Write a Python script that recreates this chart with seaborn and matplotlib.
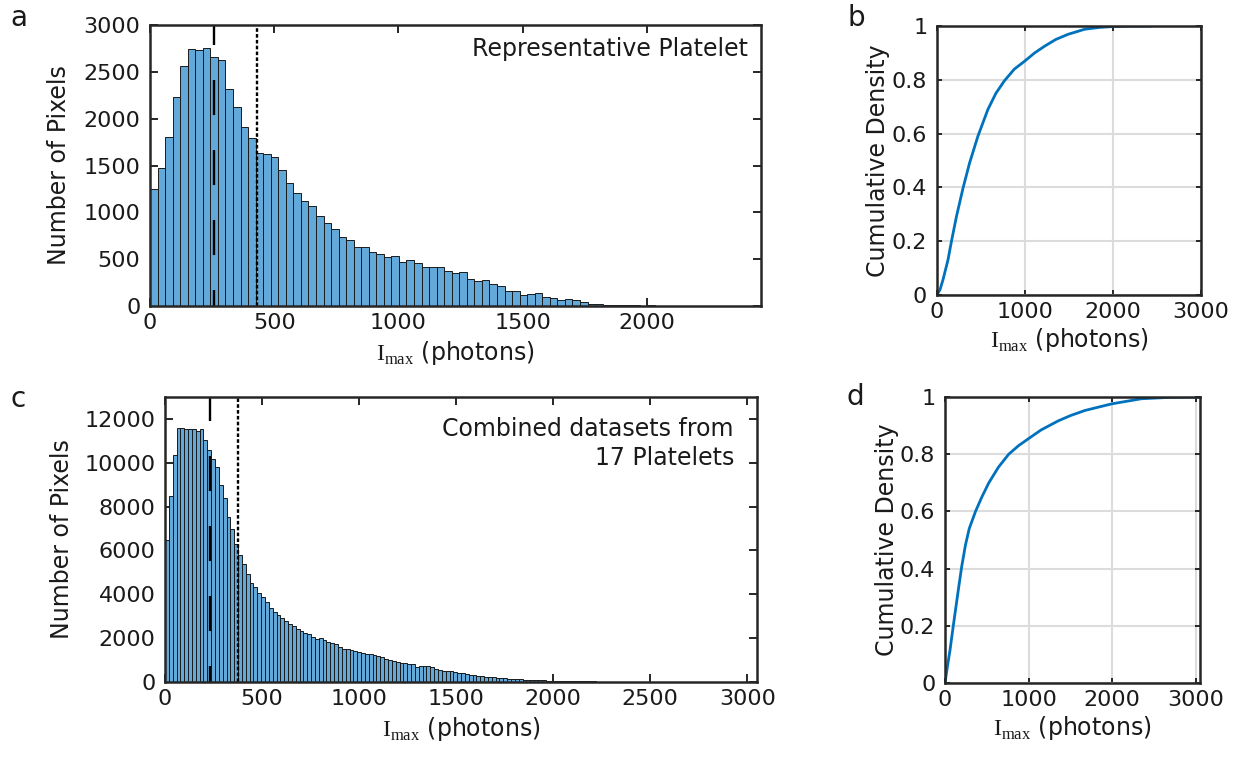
import numpy as np
import pandas as pd
import matplotlib
matplotlib.use("Agg")
import matplotlib.pyplot as plt
import seaborn as sns

# panel a: representative platelet, 81 bins over 0-2460 photons
a_range = (0, 2460)
a_counts = [
    1250, 1473, 1801, 2235, 2566, 2740, 2729, 2758, 2662, 2623,
    2313, 2128, 1908, 1790, 1637, 1619, 1594, 1452, 1310, 1203,
    1124, 1071, 961, 889, 825, 740, 705, 633, 626, 573,
    555, 527, 537, 473, 491, 456, 420, 420, 420, 374,
    349, 365, 285, 270, 274, 235, 213, 160, 160, 114,
    128, 139, 93, 85, 61, 71, 68, 46, 25, 18,
    10, 14, 8, 6, 8, 5, 6, 3, 4, 2,
    2, 1, 0, 0, 0, 0, 0, 0, 0, 0, 0,
]
a_dash, a_dot = 258, 429

# panel c: 17 platelets combined, 154 bins over 0-3050 photons
c_range = (0, 3050)
c_counts = [
    6480, 8492, 10335, 11588, 11588, 11542, 11527, 11527, 11435, 11542,
    11023, 10596, 10184, 9803, 8995, 8385, 7546, 6968, 6297, 5780,
    5383, 4911, 4529, 4346, 4042, 3859, 3659, 3356, 3202, 3051,
    2899, 2790, 2668, 2546, 2440, 2332, 2241, 2180, 2058, 1983,
    2027, 1936, 1829, 1784, 1723, 1601, 1525, 1525, 1449, 1418,
    1372, 1327, 1296, 1266, 1220, 1190, 1143, 1067, 992, 961,
    915, 869, 860, 839, 808, 700, 732, 732, 717, 686,
    580, 565, 503, 503, 503, 443, 412, 427, 382, 336,
    321, 290, 260, 245, 229, 214, 199, 183, 168, 153,
    137, 122, 122, 115, 107, 100, 85, 78, 75, 65,
    61, 50, 46, 46, 42, 38, 35, 33, 30, 28,
    27, 25, 24, 22, 21, 20, 19, 18, 17, 16,
    15, 14, 13, 12, 11, 11, 10, 9, 9, 8,
    8, 7, 7, 6, 6, 5, 5, 5, 4, 4,
    4, 3, 3, 3, 3, 2, 2, 2, 2, 2,
    1, 1, 1, 1,
]
c_dash, c_dot = 232, 378

# panel b / d: cumulative density curves
b_x = [0, 35, 68, 125, 164, 221, 296, 370, 465, 579, 670, 768, 880, 995, 1110, 1223,
       1350, 1488, 1678, 1850, 2000, 2200, 2440]
b_y = [0, 0.02, 0.056, 0.13, 0.198, 0.291, 0.397, 0.49, 0.59, 0.69, 0.75, 0.797, 0.84,
       0.869, 0.9, 0.925, 0.95, 0.969, 0.988, 0.995, 0.998, 1.0, 1.0]
d_x = [0, 30, 60, 99, 159, 199, 245, 290, 365, 440, 524, 640, 762, 880, 992, 1150,
       1357, 1500, 1674, 1992, 2349, 2700, 3000, 3040]
d_y = [0, 0.06, 0.115, 0.2, 0.325, 0.406, 0.483, 0.54, 0.6, 0.65, 0.7, 0.755, 0.8,
       0.83, 0.853, 0.885, 0.917, 0.935, 0.953, 0.976, 0.994, 0.999, 1.0, 1.0]

xlab = r"$\mathrm{I}_{\mathrm{max}}$ (photons)"

sns.set_theme(style="ticks")
plt.rcParams["font.family"] = ["DejaVu Sans"]
plt.rcParams["mathtext.fontset"] = "custom"
plt.rcParams["mathtext.rm"] = "Liberation Serif"
plt.rcParams["lines.scale_dashes"] = False
plt.rcParams["text.color"] = "#1a1a1a"
plt.rcParams["axes.labelcolor"] = "#1a1a1a"

bar_color = "#62A8D8"
line_color = "#0072BD"
axis_color = "#262626"


def style_axes(ax, big=True):
    for s in ax.spines.values():
        s.set_color(axis_color)
        s.set_linewidth(1.8)
    ax.tick_params(direction="in", top=True, right=True, length=5.5 if big else 3.5,
                   width=1.4, colors=axis_color, labelcolor="#1a1a1a", labelsize=16)
    ax.tick_params(axis="x", pad=5)
    ax.tick_params(axis="y", pad=7)


def draw_hist(ax, counts, rng, dash, dot):
    nb = len(counts)
    width = (rng[1] - rng[0]) / nb
    df = pd.DataFrame({"x": rng[0] + width * (np.arange(nb) + 0.5), "n": counts})
    sns.histplot(data=df, x="x", weights="n", bins=nb, binrange=rng, ax=ax,
                 color=bar_color, edgecolor="#1a1a1a", linewidth=0.7, alpha=1)
    ax.axvline(dash, color="black", lw=1.7, linestyle=(13.7, (25.2, 25.2)))
    ax.axvline(dot, color="black", lw=1.7, linestyle=(0, (2.6, 1.6)))
    ax.set_xlim(*rng)


def draw_cdf(ax, x, y, xmax):
    sns.lineplot(x=x, y=y, ax=ax, color=line_color, lw=2.0)
    ax.set_xlim(0, xmax)
    ax.set_ylim(0, 1)
    ax.set_xticks([0, 1000, 2000, 3000])
    ax.set_yticks([0, 0.2, 0.4, 0.6, 0.8, 1])
    ax.set_yticklabels(["0", "0.2", "0.4", "0.6", "0.8", "1"])
    ax.grid(True, color="#DCDCDC", lw=1.5)
    ax.set_axisbelow(True)
    ax.set_xlabel(xlab, fontsize=17, labelpad=3)
    ax.set_ylabel("Cumulative Density", fontsize=17, labelpad=1)


fig = plt.figure(figsize=(12.4, 7.59), dpi=100)

ax_a = fig.add_axes([0.121, 0.5968, 0.4927, 0.3702])
draw_hist(ax_a, a_counts, a_range, a_dash, a_dot)
ax_a.set_ylim(0, 3000)
ax_a.set_xticks([0, 500, 1000, 1500, 2000])
ax_a.set_yticks(np.arange(0, 3001, 500))
ax_a.set_xlabel(xlab, fontsize=17, labelpad=4)
ax_a.set_ylabel("Number of Pixels", fontsize=17, labelpad=9)
ax_a.text(0.979, 0.915, "Representative Platelet", transform=ax_a.transAxes,
          ha="right", va="center", fontsize=17)
style_axes(ax_a)

ax_c = fig.add_axes([0.1331, 0.1014, 0.4774, 0.3755])
draw_hist(ax_c, c_counts, c_range, c_dash, c_dot)
ax_c.set_ylim(0, 13000)
ax_c.set_xticks(np.arange(0, 3001, 500))
ax_c.set_yticks(np.arange(0, 12001, 2000))
ax_c.set_xlabel(xlab, fontsize=17, labelpad=4)
ax_c.set_ylabel("Number of Pixels", fontsize=17, labelpad=7)
ax_c.text(0.961, 0.93, "Combined datasets from\n17 Platelets", transform=ax_c.transAxes,
          ha="right", va="top", fontsize=17, multialignment="right", linespacing=1.25)
style_axes(ax_c)

ax_b = fig.add_axes([0.7556, 0.6113, 0.2129, 0.3544])
draw_cdf(ax_b, b_x, b_y, 3000)
style_axes(ax_b, big=False)

ax_d = fig.add_axes([0.7621, 0.1001, 0.2056, 0.3768])
draw_cdf(ax_d, d_x, d_y, 3050)
style_axes(ax_d, big=False)

for lab, x, y in [("a", 10, 26), ("b", 847, 26), ("c", 10, 407), ("d", 847, 405)]:
    fig.text(x / 1240, 1 - y / 759, lab, fontsize=20, va="baseline", ha="left")

fig.savefig("out.png", dpi=100)
